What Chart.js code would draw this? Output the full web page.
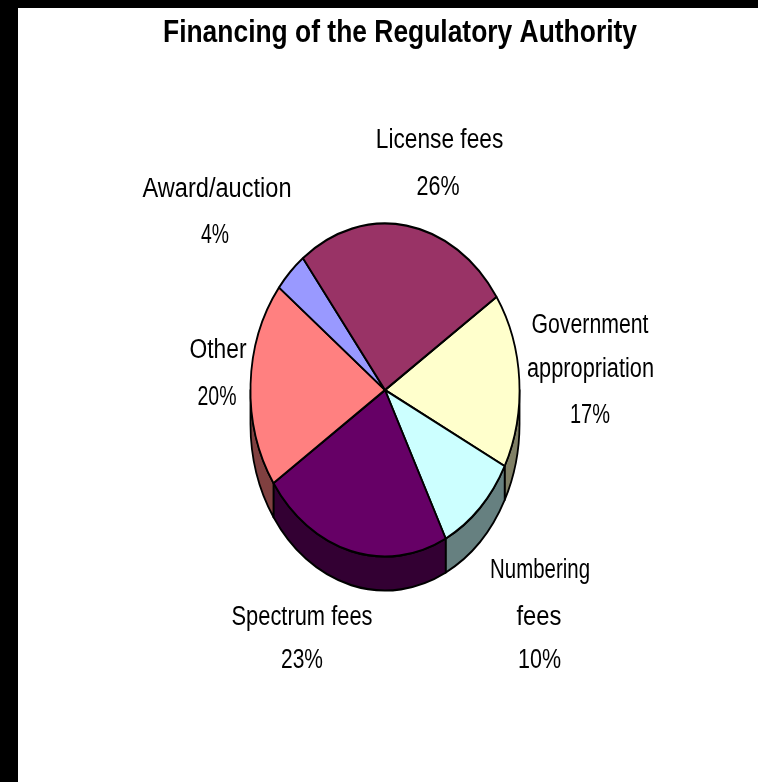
<!DOCTYPE html>
<html>
<head>
<meta charset="utf-8">
<title>Financing of the Regulatory Authority</title>
<script src="https://cdn.jsdelivr.net/npm/chart.js@4"></script>
<style>
  html, body { margin: 0; padding: 0; background: #fff; width: 758px; height: 782px; overflow: hidden; }
  #frameTop { position: absolute; left: 0; top: 0; width: 758px; height: 8px; background: #000; }
  #frameLeft { position: absolute; left: 0; top: 0; width: 18px; height: 782px; background: #000; }
  #chart { position: absolute; left: 0; top: 0; }
</style>
</head>
<body>
<div id="frameTop"></div>
<div id="frameLeft"></div>
<canvas id="chart" width="758" height="782"></canvas>
<script>
const chartTitle = 'Financing of the Regulatory Authority';
const categories = ['Government appropriation', 'Numbering fees', 'Spectrum fees', 'Other', 'Award/auction', 'License fees'];
const shares = [17, 10, 23, 20, 4, 26];
const faceColors = ['#FFFFCC', '#CCFFFF', '#660066', '#FF8080', '#9999FF', '#993366'];
const sideColors = ['#808066', '#668080', '#330033', '#804040', '#4D4D80', '#4D1A33'];

// Wrapped category text; the percentage is appended as the last line of each block.
const labelLines = [['Government', 'appropriation'], ['Numbering', 'fees'], ['Spectrum fees'], ['Other'], ['Award/auction'], ['License fees']];
// Per line: centre x, baseline y and the condensed width of the text.
const labelCentres = [[590, 590.5, 590], [540, 539, 539.5], [302, 302], [218, 217], [217, 215], [439.5, 438]];
const labelBaselines = [[333, 377, 423], [578, 625, 668], [625, 668], [358, 405], [197, 243], [148, 195]];
const labelWidths = [[117, 127, 40], [100, 45, 43], [141, 42], [57, 39], [149, 28], [127.5, 43]];

const SQUASH_X = 0.808;   // the pie is viewed tilted, so it is narrower than tall
const DEPTH = 34;         // height of the extruded rim

const tiltedPie = {
  id: 'tiltedPie',
  beforeDatasetsDraw(chart) {
    const ctx = chart.ctx;
    const arcs = chart.getDatasetMeta(0).data;
    const cx = arcs[0].x, cy = arcs[0].y;
    ctx.save();
    ctx.translate(cx, cy);
    ctx.scale(SQUASH_X, 1);
    ctx.translate(-cx, -cy);
    // Rim wall: only the part of each slice facing the viewer is visible.
    arcs.forEach((arc, i) => {
      const ranges = [[arc.startAngle, arc.endAngle], [arc.startAngle - 2 * Math.PI, arc.endAngle - 2 * Math.PI]];
      ranges.forEach(([s, e]) => {
        const a0 = Math.max(s, 0), a1 = Math.min(e, Math.PI);
        if (a1 <= a0) return;
        const r = arc.outerRadius;
        ctx.beginPath();
        ctx.arc(cx, cy, r, a0, a1);
        ctx.lineTo(cx + r * Math.cos(a1), cy + r * Math.sin(a1) + DEPTH);
        ctx.arc(cx, cy + DEPTH, r, a1, a0, true);
        ctx.closePath();
        ctx.fillStyle = sideColors[i];
        ctx.fill();
        ctx.lineWidth = 2.2;
        ctx.strokeStyle = '#000';
        ctx.lineJoin = 'round';
        ctx.stroke();
      });
    });
  },
  afterDatasetsDraw(chart) {
    chart.ctx.restore();
  },
  afterDraw(chart) {
    const ctx = chart.ctx;
    ctx.save();
    ctx.fillStyle = '#000';
    ctx.textAlign = 'center';
    ctx.textBaseline = 'alphabetic';
    ctx.font = 'bold 32px "Liberation Sans", Arial, sans-serif';
    ctx.fillText(chartTitle, 400, 42, 474);
    ctx.font = '27px "Liberation Sans", Arial, sans-serif';
    categories.forEach((_, i) => {
      const lines = labelLines[i].concat(shares[i] + '%');
      lines.forEach((line, k) => {
        ctx.fillText(line, labelCentres[i][k], labelBaselines[i][k], labelWidths[i][k]);
      });
    });
    ctx.restore();
  }
};

new Chart(document.getElementById('chart'), {
  type: 'pie',
  data: {
    labels: categories,
    datasets: [{
      data: shares,
      backgroundColor: faceColors,
      borderColor: '#000',
      borderWidth: 2.2,
      clip: false
    }]
  },
  options: {
    responsive: false,
    animation: false,
    rotation: 56,
    layout: { padding: { left: 217.4, right: 205.4, top: 222.4, bottom: 224.4 } },
    plugins: { legend: { display: false }, tooltip: { enabled: false } }
  },
  plugins: [tiltedPie]
});
</script>
</body>
</html>
